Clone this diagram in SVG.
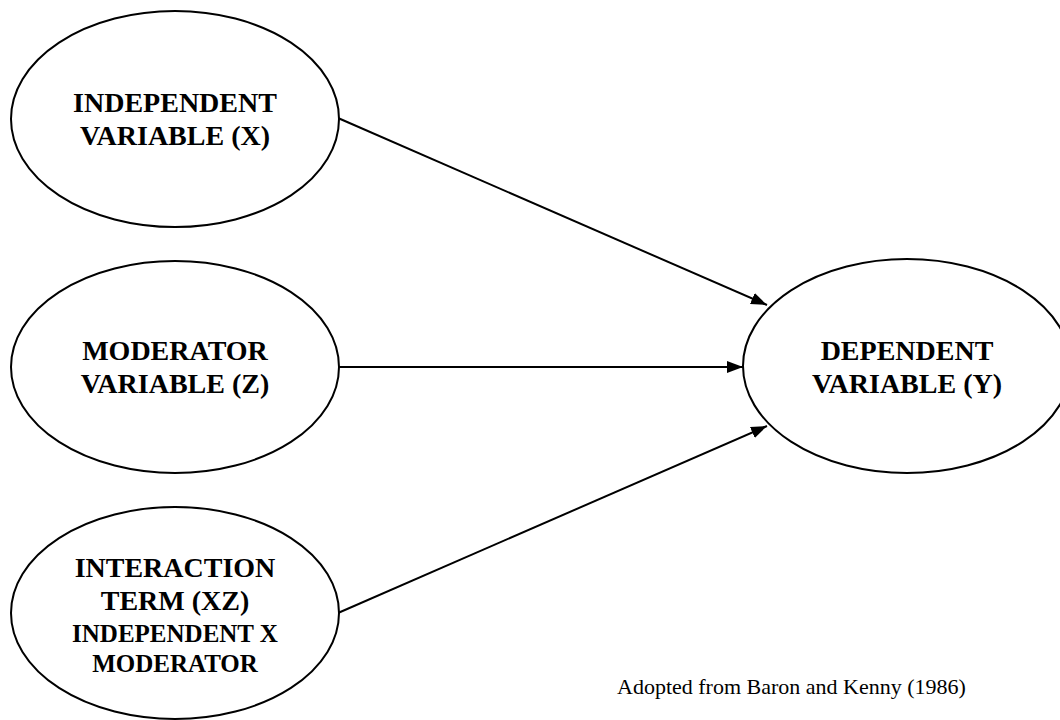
<svg xmlns="http://www.w3.org/2000/svg" width="1060" height="720" viewBox="0 0 1060 720">
  <style>
    .node ellipse { fill: #ffffff; stroke: #000000; stroke-width: 2; }
    .label { font-family: "Liberation Serif", "Times New Roman", serif; font-weight: bold; font-size: 28px; fill: #000000; text-anchor: middle; }
    .label.small { font-size: 25px; }
    .edge { stroke: #000000; stroke-width: 2; fill: none; marker-end: url(#arrow); }
    .caption { font-family: "Liberation Serif", "Times New Roman", serif; font-size: 22px; fill: #000000; }
  </style>
  <defs>
    <marker id="arrow" viewBox="0 0 16 12" refX="16" refY="6" markerWidth="16" markerHeight="12" markerUnits="userSpaceOnUse" orient="auto">
      <path d="M0,0 L16,6 L0,12 Z" fill="#000000"/>
    </marker>
  </defs>
  <rect width="1060" height="720" fill="#ffffff"/>

  <g id="connectors">
    <line class="edge" x1="338" y1="118" x2="767" y2="305"/>
    <line class="edge" x1="339" y1="367" x2="743" y2="367"/>
    <line class="edge" x1="338" y1="613" x2="767" y2="426"/>
  </g>

  <g id="node-independent" class="node">
    <ellipse cx="175" cy="119" rx="164" ry="108"/>
    <text class="label" x="175" y="112">INDEPENDENT</text>
    <text class="label" x="175" y="145">VARIABLE (X)</text>
  </g>

  <g id="node-moderator" class="node">
    <ellipse cx="175" cy="367" rx="164" ry="106"/>
    <text class="label" x="175" y="360">MODERATOR</text>
    <text class="label" x="175" y="393">VARIABLE (Z)</text>
  </g>

  <g id="node-interaction" class="node">
    <ellipse cx="175" cy="613" rx="164" ry="106"/>
    <text class="label" x="175" y="577">INTERACTION</text>
    <text class="label" x="175" y="610">TERM (XZ)</text>
    <text class="label small" x="175" y="642">INDEPENDENT X</text>
    <text class="label small" x="175" y="672">MODERATOR</text>
  </g>

  <g id="node-dependent" class="node">
    <ellipse cx="907" cy="366" rx="164" ry="107"/>
    <text class="label" x="907" y="360">DEPENDENT</text>
    <text class="label" x="907" y="393">VARIABLE (Y)</text>
  </g>

  <text class="caption" x="617" y="694">Adopted from Baron and Kenny (1986)</text>
</svg>
